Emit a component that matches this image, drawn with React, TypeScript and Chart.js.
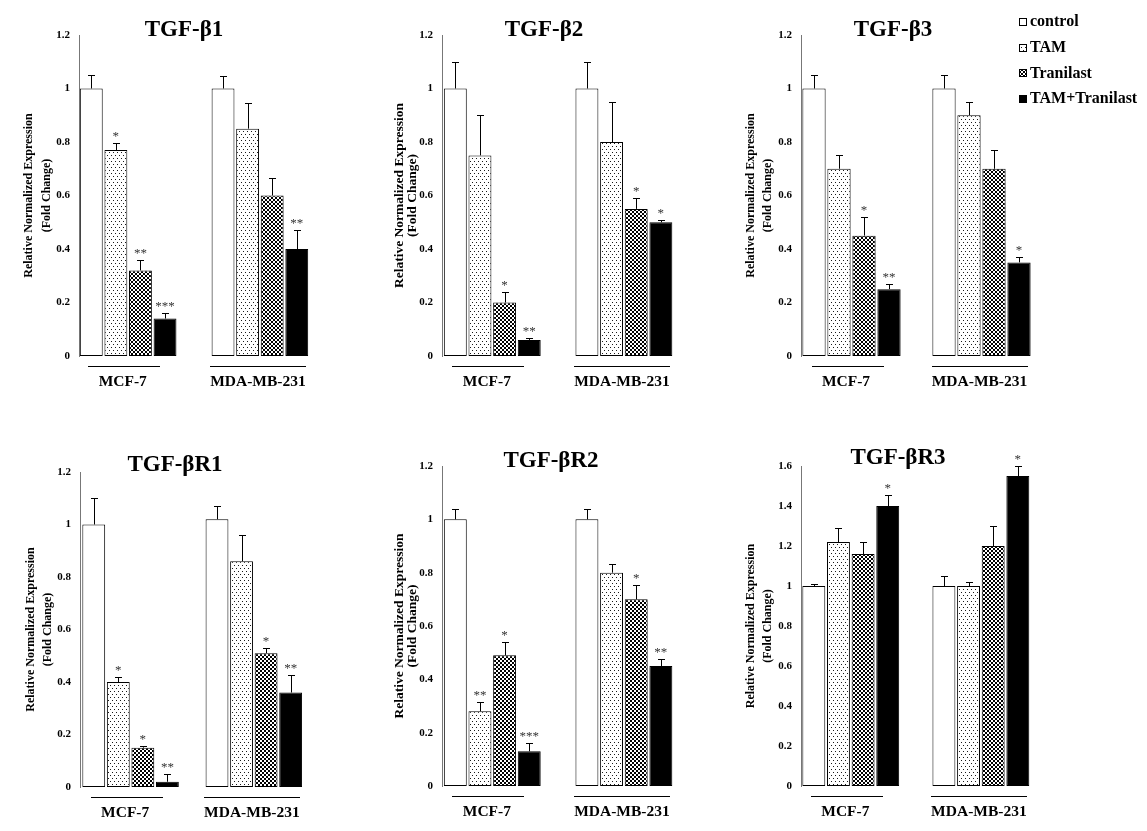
import React, { useEffect, useRef } from "react";
import { Chart, registerables } from "chart.js";

Chart.register(...registerables);

const FONT = "'Liberation Serif', 'Times New Roman', Times, serif";
Chart.defaults.font.family = FONT;

// ---------------- data ----------------
const groupLabels = ["MCF-7", "MDA-MB-231"];
const seriesNames = ["control", "TAM", "Tranilast", "TAM+Tranilast"];
const panelTitles = ["TGF-β1", "TGF-β2", "TGF-β3", "TGF-βR1", "TGF-βR2", "TGF-βR3"];
const yAxisTitle = ["Relative Normalized Expression", "(Fold Change)"];
const yMaxValues = [1.2, 1.2, 1.2, 1.2, 1.2, 1.6];

// rows = series (control, TAM, Tranilast, TAM+Tranilast); columns = [MCF-7, MDA-MB-231]
const tgfb1Mean = [[1.0, 1.0], [0.77, 0.85], [0.32, 0.6], [0.14, 0.4]];
const tgfb1Err = [[0.05, 0.045], [0.025, 0.095], [0.04, 0.065], [0.02, 0.07]];
const tgfb1Sig = [["", ""], ["*", ""], ["**", ""], ["***", "**"]];

const tgfb2Mean = [[1.0, 1.0], [0.75, 0.8], [0.2, 0.55], [0.06, 0.5]];
const tgfb2Err = [[0.1, 0.1], [0.15, 0.15], [0.04, 0.04], [0.007, 0.007]];
const tgfb2Sig = [["", ""], ["", ""], ["*", "*"], ["**", "*"]];

const tgfb3Mean = [[1.0, 1.0], [0.7, 0.9], [0.45, 0.7], [0.25, 0.35]];
const tgfb3Err = [[0.05, 0.05], [0.05, 0.05], [0.07, 0.07], [0.02, 0.02]];
const tgfb3Sig = [["", ""], ["", ""], ["*", ""], ["**", "*"]];

const tgfbr1Mean = [[1.0, 1.02], [0.4, 0.86], [0.15, 0.51], [0.02, 0.36]];
const tgfbr1Err = [[0.1, 0.05], [0.02, 0.1], [0.007, 0.02], [0.03, 0.067]];
const tgfbr1Sig = [["", ""], ["*", ""], ["*", "*"], ["**", "**"]];

const tgfbr2Mean = [[1.0, 1.0], [0.28, 0.8], [0.49, 0.7], [0.13, 0.45]];
const tgfbr2Err = [[0.04, 0.04], [0.034, 0.034], [0.05, 0.053], [0.03, 0.028]];
const tgfbr2Sig = [["", ""], ["**", ""], ["*", "*"], ["***", "**"]];

const tgfbr3Mean = [[1.0, 1.0], [1.22, 1.0], [1.16, 1.2], [1.4, 1.55]];
const tgfbr3Err = [[0.01, 0.05], [0.07, 0.02], [0.06, 0.1], [0.055, 0.05]];
const tgfbr3Sig = [["", ""], ["", ""], ["", ""], ["*", "*"]];

const panelMeans = [tgfb1Mean, tgfb2Mean, tgfb3Mean, tgfbr1Mean, tgfbr2Mean, tgfbr3Mean];
const panelErrs = [tgfb1Err, tgfb2Err, tgfb3Err, tgfbr1Err, tgfbr2Err, tgfbr3Err];
const panelSigs = [tgfb1Sig, tgfb2Sig, tgfb3Sig, tgfbr1Sig, tgfbr2Sig, tgfbr3Sig];

// ---------------- layout (page pixels) ----------------
const Y_W = 72;
const PAD_TOP = 30;
const X_H = 50;
const PAD_RIGHT = 10;
const GROUP_W = 100;

const panelLayouts = [
  { ax: 79, top: 35, bottom: 356, c1: 129, c2: 263, tx: 184, ty: 36, yf: 12, ylh: 18, ypad: 12.5, legend: false },
  { ax: 442, top: 35, bottom: 356, c1: 493, c2: 626.5, tx: 544, ty: 36, yf: 13.5, ylh: 13.5, ypad: 22.75, legend: false },
  { ax: 801, top: 35, bottom: 356, c1: 851.5, c2: 981.5, tx: 893, ty: 36, yf: 12, ylh: 17, ypad: 13.8, legend: true },
  { ax: 80, top: 472, bottom: 787, c1: 131.5, c2: 257, tx: 175, ty: 471, yf: 12, ylh: 17, ypad: 14.5, legend: false },
  { ax: 442, top: 466, bottom: 786, c1: 493, c2: 626.5, tx: 551, ty: 467, yf: 13.5, ylh: 13.5, ypad: 22.75, legend: false },
  { ax: 801, top: 466, bottom: 786, c1: 851.5, c2: 983.5, tx: 898, ty: 464, yf: 12, ylh: 17, ypad: 13.8, legend: false },
];
// underline extents relative to group centre, label shift relative to group centre
const UNDERLINES = [[-40, 32], [-50, 46]];
const LABEL_SHIFT = [-5.5, -2];

function makeFill(kind: number): string | CanvasPattern {
  if (kind === 0) return "#ffffff";
  if (kind === 3) return "#000000";
  const c = document.createElement("canvas");
  const g = c.getContext("2d")!;
  if (kind === 1) {
    c.width = 4;
    c.height = 6;
    g.fillStyle = "#ffffff";
    g.fillRect(0, 0, 4, 6);
    g.fillStyle = "#1a1a1a";
    g.fillRect(0, 0, 1, 1);
    g.fillRect(2, 3, 1, 1);
  } else {
    c.width = 4;
    c.height = 4;
    g.fillStyle = "#ffffff";
    g.fillRect(0, 0, 4, 4);
    g.fillStyle = "#000000";
    g.fillRect(0, 0, 2, 2);
    g.fillRect(2, 2, 2, 2);
  }
  return g.createPattern(c, "repeat")!;
}

function Panel({ idx }: { idx: number }) {
  const ref = useRef<HTMLCanvasElement>(null);
  const L = panelLayouts[idx];
  const areaRight = Math.round(L.c2 + 52);
  const canvasLeft = L.ax - Y_W;
  const canvasTop = L.top - PAD_TOP;
  const rightEdge = L.legend ? 1147 : areaRight + PAD_RIGHT;
  const width = rightEdge - canvasLeft;
  const height = L.bottom + X_H - canvasTop;

  useEffect(() => {
    const means = panelMeans[idx];
    const errs = panelErrs[idx];
    const sigs = panelSigs[idx];
    const pitch = L.c2 - L.c1;
    const fills = seriesNames.map((_, i) => makeFill(i));
    const xMin = -(L.c1 - L.ax) / pitch;
    const xMax = 1 + (areaRight - L.c2) / pitch;

    const annotate = {
      id: "annotate" + idx,
      afterDatasetsDraw(chart: any) {
        const ctx: CanvasRenderingContext2D = chart.ctx;
        const ys = chart.scales.y;
        const xs = chart.scales.x;
        const area = chart.chartArea;
        ctx.save();
        // error bars and significance marks
        chart.data.datasets.forEach((_ds: any, di: number) => {
          const meta = chart.getDatasetMeta(di);
          meta.data.forEach((bar: any, gi: number) => {
            const v = means[di][gi];
            const e = errs[di][gi];
            const topPx = Math.round(ys.getPixelForValue(v + e)) + 0.5;
            const cx = Math.round(bar.x) + 0.5;
            ctx.strokeStyle = "#000";
            ctx.lineWidth = 1;
            ctx.beginPath();
            ctx.moveTo(cx, bar.y);
            ctx.lineTo(cx, topPx);
            ctx.moveTo(cx - 3.5, topPx);
            ctx.lineTo(cx + 3.5, topPx);
            ctx.stroke();
            const s = sigs[di][gi];
            if (s) {
              ctx.fillStyle = "#333";
              ctx.font = `13px ${FONT}`;
              ctx.textAlign = "center";
              ctx.textBaseline = "alphabetic";
              ctx.fillText(s, bar.x, topPx - 4);
            }
          });
        });
        // group underlines
        ctx.strokeStyle = "#000";
        ctx.lineWidth = 1;
        groupLabels.forEach((_g, gi) => {
          const c = xs.getPixelForValue(gi);
          const y = Math.round(area.bottom + 10) + 0.5;
          ctx.beginPath();
          ctx.moveTo(Math.round(c + UNDERLINES[gi][0]), y);
          ctx.lineTo(Math.round(c + UNDERLINES[gi][1]), y);
          ctx.stroke();
        });
        // panel title
        ctx.fillStyle = "#000";
        ctx.font = `bold 23px ${FONT}`;
        ctx.textAlign = "center";
        ctx.textBaseline = "alphabetic";
        ctx.fillText(panelTitles[idx], L.tx - canvasLeft, L.ty - canvasTop);
        // legend
        if (L.legend) {
          seriesNames.forEach((name, i) => {
            const ry = 22 + i * 25.7 - canvasTop;
            const bx = 1019 - canvasLeft;
            ctx.fillStyle = fills[i] as any;
            ctx.fillRect(bx, Math.round(ry - 4), 8, 8);
            ctx.strokeStyle = "#000";
            ctx.lineWidth = 1;
            ctx.strokeRect(bx + 0.5, Math.round(ry - 4) + 0.5, 7, 7);
            ctx.fillStyle = "#000";
            ctx.font = `bold 16px ${FONT}`;
            ctx.textAlign = "left";
            ctx.textBaseline = "middle";
            ctx.fillText(name, 1030 - canvasLeft, ry);
          });
        }
        ctx.restore();
      },
    };

    const chart = new Chart(ref.current!, {
      type: "bar",
      data: {
        datasets: seriesNames.map((name, si) => ({
          label: name,
          data: groupLabels.map((_g, gi) => ({ x: gi, y: means[si][gi] })),
          backgroundColor: fills[si] as any,
          borderColor: "#000",
          borderWidth: 1,
          borderSkipped: false,
          categoryPercentage: GROUP_W / pitch,
          barPercentage: 0.93,
        })),
      },
      options: {
        responsive: false,
        animation: false,
        devicePixelRatio: 1,
        layout: { padding: { left: 0, top: PAD_TOP, right: rightEdge - areaRight, bottom: 0 } },
        plugins: { legend: { display: false }, tooltip: { enabled: false } },
        scales: {
          x: {
            type: "linear",
            min: xMin,
            max: xMax,
            offset: false,
            afterBuildTicks: (scale: any) => {
              scale.ticks = groupLabels.map((_g, i) => ({ value: i + LABEL_SHIFT[i] / pitch }));
            },
            afterFit: (scale: any) => {
              scale.height = X_H;
            },
            ticks: {
              callback: (_v: any, i: number) => groupLabels[i],
              autoSkip: false,
              maxRotation: 0,
              padding: 17,
              color: "#000",
              font: { family: FONT, size: 15.5, weight: "bold" },
            },
            grid: { display: false, drawTicks: false },
            border: { display: false },
          } as any,
          y: {
            min: 0,
            max: yMaxValues[idx],
            afterFit: (scale: any) => {
              scale.width = Y_W;
            },
            ticks: {
              stepSize: 0.2,
              padding: 9,
              color: "#000",
              font: { family: FONT, size: 11, weight: "bold" },
              callback: (v: any) => String(Number(Number(v).toFixed(1))),
            },
            grid: { display: false, drawTicks: false },
            border: { display: true, color: "#777", width: 1 },
            title: {
              display: true,
              text: yAxisTitle,
              color: "#000",
              padding: { top: L.ypad, bottom: 0 },
              font: { family: FONT, size: L.yf, weight: "bold", lineHeight: `${L.ylh}px` },
            },
          } as any,
        },
      },
      plugins: [annotate as any],
    });
    return () => chart.destroy();
  }, []);

  return (
    <canvas
      ref={ref}
      width={width}
      height={height}
      style={{ position: "absolute", left: canvasLeft, top: canvasTop, width, height }}
    />
  );
}

export default function App() {
  return (
    <div
      style={{
        position: "absolute",
        left: 0,
        top: 0,
        width: 1147,
        height: 831,
        background: "#fff",
        overflow: "hidden",
      }}
    >
      {panelTitles.map((_t, i) => (
        <Panel key={i} idx={i} />
      ))}
    </div>
  );
}
